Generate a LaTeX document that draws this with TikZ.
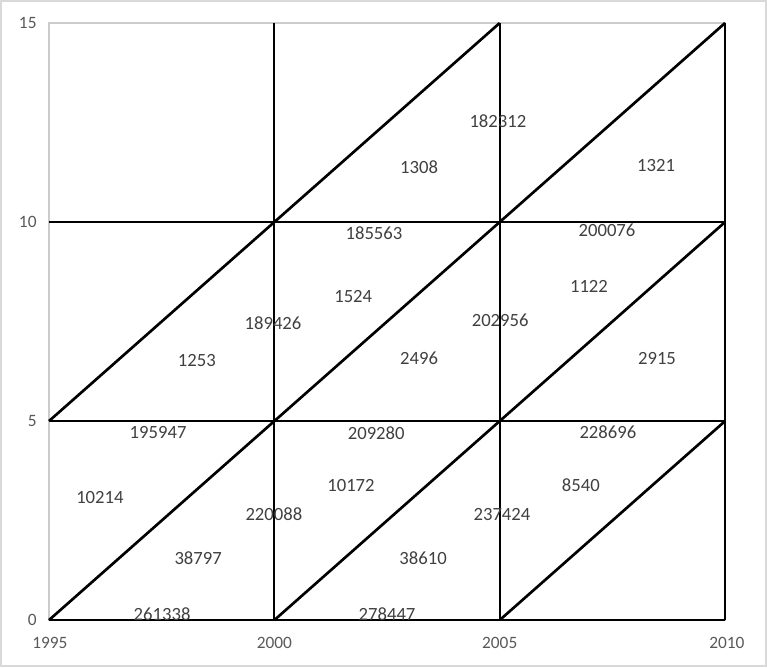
\documentclass[tikz,border=0pt]{standalone}
\usepackage{fontspec}
\setmainfont{Carlito}
\definecolor{labelgray}{HTML}{404040}
\definecolor{tickgray}{HTML}{595959}
\definecolor{framegray}{HTML}{D9D9D9}
\tikzset{
  gridline/.style={line width=1.7pt, black},
  vline/.style={line width=1.4pt, black},
  diagline/.style={line width=2pt, black},
  cell/.style={text=labelgray, font=\fontsize{14}{16}\selectfont, inner sep=0pt},
  tick/.style={text=tickgray, font=\fontsize{13}{15}\selectfont, inner sep=0pt}
}
\begin{document}
\begin{tikzpicture}[x=33.8pt, y=29.85pt]
  \useasboundingbox (-1.087,-1.181) rectangle (15.93,15.578);

  % 1. 外框与绘图区
  \draw[framegray, line width=1.5pt] (-1.065,-1.156) rectangle (15.908,15.553);
  \draw[gray!40, line width=0.8pt] (0,0) rectangle (15,15);

  % 2. 网格线
  \draw[gridline] (0,0) -- (15,0);
  \draw[gridline] (0,5) -- (15,5);
  \draw[gridline] (0,10) -- (15,10);
  \draw[vline] (5,0) -- (5,15);
  \draw[vline] (10,0) -- (10,15);
  \draw[vline] (15,0) -- (15,15);

  % 3. 斜线
  \foreach \x in {0,5,10} \draw[diagline] (\x,0) -- ++(5,5);
  \foreach \x in {0,5,10} \draw[diagline] (\x,5) -- ++(5,5);
  \foreach \x in {5,10} \draw[diagline] (\x,10) -- ++(5,5);

  % 4. 坐标轴标号
  \node[tick, anchor=east] (y0) at (-0.27,0) {0};
  \node[tick, anchor=east] (y5) at (-0.27,5) {5};
  \node[tick, anchor=east] (y10) at (-0.27,10) {10};
  \node[tick, anchor=east] (y15) at (-0.27,15) {15};
  \node[tick] (x1995) at (0.02,-0.58) {1995};
  \node[tick] (x2000) at (5,-0.58) {2000};
  \node[tick] (x2005) at (10,-0.58) {2005};
  \node[tick] (x2010) at (15.04,-0.58) {2010};

  % 5. 数值
  \node[cell] (n182312) at (9.96,12.54) {182312};
  \node[cell] (n1308) at (8.21,11.38) {1308};
  \node[cell] (n1321) at (13.47,11.43) {1321};
  \node[cell] (n185563) at (7.21,9.72) {185563};
  \node[cell] (n200076) at (12.38,9.80) {200076};
  \node[cell] (n1524) at (6.75,8.14) {1524};
  \node[cell] (n1122) at (11.98,8.39) {1122};
  \node[cell] (n189426) at (4.97,7.46) {189426};
  \node[cell] (n202956) at (10.01,7.54) {202956};
  \node[cell] (n1253) at (3.28,6.53) {1253};
  \node[cell] (n2496) at (8.21,6.58) {2496};
  \node[cell] (n2915) at (13.49,6.58) {2915};
  \node[cell] (n195947) at (2.42,4.70) {195947};
  \node[cell] (n209280) at (7.26,4.70) {209280};
  \node[cell] (n228696) at (12.40,4.72) {228696};
  \node[cell] (n10214) at (1.13,3.09) {10214};
  \node[cell] (n10172) at (6.70,3.39) {10172};
  \node[cell] (n8540) at (11.80,3.39) {8540};
  \node[cell] (n220088) at (4.99,2.66) {220088};
  \node[cell] (n237424) at (10.05,2.66) {237424};
  \node[cell] (n38797) at (3.31,1.56) {38797};
  \node[cell] (n38610) at (8.30,1.56) {38610};
  \node[cell] (n261338) at (2.51,0.15) {261338};
  \node[cell] (n278447) at (7.50,0.15) {278447};
\end{tikzpicture}
\end{document}
